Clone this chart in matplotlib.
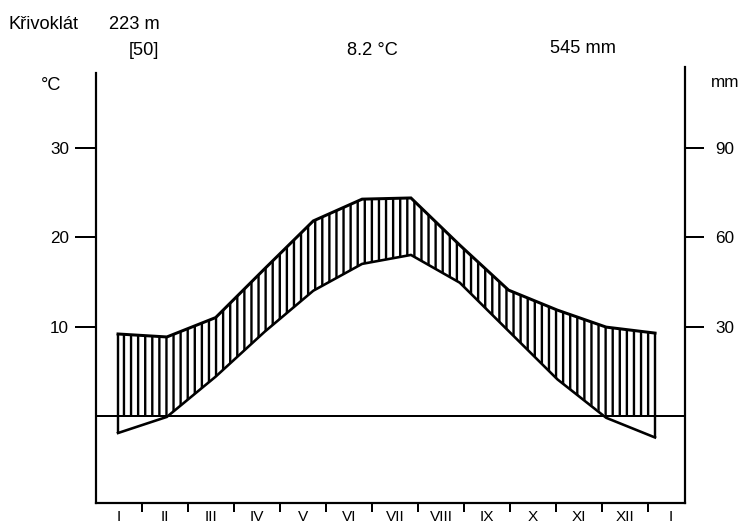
import numpy as np
import matplotlib
matplotlib.use('Agg')
import matplotlib.pyplot as plt

plt.rcParams['font.family'] = ['Liberation Sans', 'DejaVu Sans']
plt.rcParams['hatch.linewidth'] = 2.0
plt.rcParams['hatch.color'] = 'black'

# Station header
station = 'Křivoklát'
elevation = '223 m'
years = '[50]'
mean_temp = '8.2 °C'
annual_precip = '545 mm'

# Monthly climate data
month_labels = ['I', 'II', 'III', 'IV', 'V', 'VI', 'VII', 'VIII', 'IX', 'X', 'XI', 'XII', 'I']
temp = [-1.9, -0.1, 4.4, 9.4, 14.0, 17.0, 18.0, 14.9, 9.5, 4.1, -0.2, -2.4]        # °C
precip = [27.5, 26.5, 33.0, 49.3, 65.4, 72.7, 73.1, 57.3, 42.2, 35.5, 29.8, 27.8]  # mm
temp_ticks = [10, 20, 30]
precip_ticks = [30, 60, 90]
MM_PER_DEG = 3

W, H, DPI = 740, 529, 85
PT = 72 / DPI  # points per pixel


def fpos(x, y):
    """pixel position (from top-left) -> figure fraction"""
    return x / W, 1 - y / H


fig = plt.figure(figsize=(W / DPI, H / DPI), dpi=DPI)
ax = fig.add_axes([96 / W, 26 / H, 589 / W, 436 / H])

x = np.arange(len(temp))
t = np.array(temp)
p = np.array(precip) / MM_PER_DEG

# Hatched humid period, curves and end lines
ax.fill_between(x, np.maximum(t, 0), p, facecolor='none', edgecolor='black',
                hatch='||', linewidth=0)
ax.plot(x, p, color='black', lw=3.0 * PT, solid_joinstyle='miter')
ax.plot(x, t, color='black', lw=2.6 * PT, solid_joinstyle='miter')
ax.vlines([x[0], x[-1]], [t[0], t[-1]], [p[0], p[-1]], colors='black', lw=2.4 * PT)
ax.axhline(0, color='black', lw=2.0 * PT)

ax.set_xlim(-0.451, 11.614)
ax.set_ylim(-9.72, 39.0)

for s in ax.spines.values():
    s.set_linewidth(2.2 * PT)
ax.spines['top'].set_visible(False)
ax.spines['left'].set_bounds(-9.72, 38.3)
ax.set_xticks([])
ax.set_yticks(temp_ticks)
ax.tick_params(axis='y', direction='out', length=21 * PT, width=2.0 * PT,
               pad=6 * PT, labelsize=14.5)

sec = ax.secondary_yaxis('right', functions=(lambda v: v * MM_PER_DEG,
                                             lambda v: v / MM_PER_DEG))
sec.set_yticks(precip_ticks)
sec.tick_params(direction='out', length=19 * PT, width=2.0 * PT, pad=11 * PT,
                labelsize=14.5)
for s in sec.spines.values():
    s.set_visible(False)

# Month axis along the bottom
ax2 = ax.twiny()
ax2.set_xlim(0, 589 / 46)
ax2.xaxis.set_ticks_position('bottom')
for s in ax2.spines.values():
    s.set_visible(False)
ax2.set_xticks(np.arange(1, 13))
ax2.set_xticks(np.arange(len(month_labels)) + 0.5, minor=True)
ax2.set_xticklabels([], minor=False)
ax2.set_xticklabels(month_labels, minor=True)
ax2.tick_params(axis='x', which='major', direction='out', length=9 * PT,
                width=2.0 * PT)
ax2.tick_params(axis='x', which='minor', length=0, pad=7 * PT, labelsize=13)

# Header and unit texts
fig.text(*fpos(9, 29), station, fontsize=15.5, va='baseline')
fig.text(*fpos(109, 29), elevation, fontsize=15.5, va='baseline')
fig.text(*fpos(129, 55), years, fontsize=15.5, va='baseline')
fig.text(*fpos(372, 55), mean_temp, fontsize=15.5, va='baseline', ha='center')
fig.text(*fpos(583, 53), annual_precip, fontsize=15.5, va='baseline', ha='center')
fig.text(*fpos(41, 90), '°C', fontsize=15.5, va='baseline')
fig.text(*fpos(711, 87), 'mm', fontsize=14.5, va='baseline')

fig.savefig('out.png', dpi=DPI)
